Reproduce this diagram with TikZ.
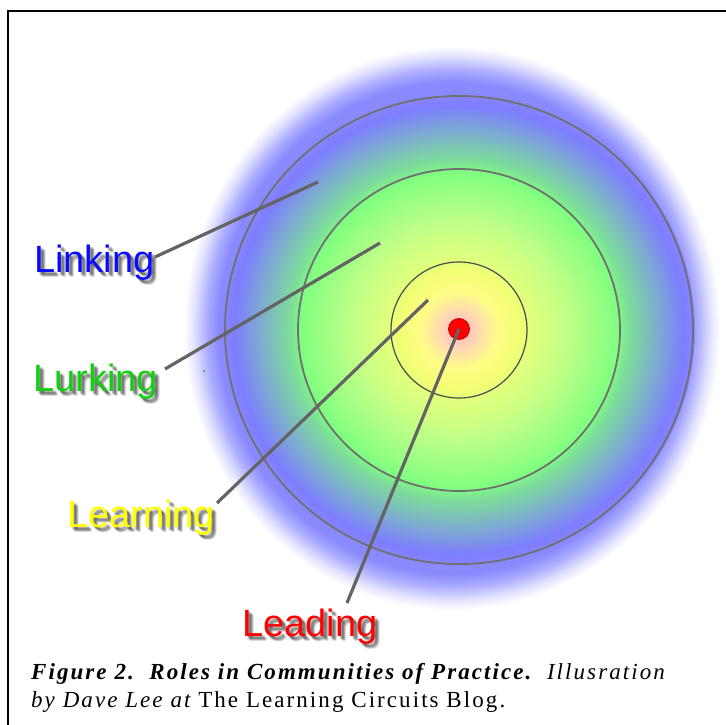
\documentclass[tikz,border=0pt]{standalone}
\usepackage{fontspec}
\setmainfont{Liberation Serif}
\newfontfamily\labelfont{Liberation Sans}
\newfontfamily\capfont[LetterSpace=9]{Liberation Serif}

% colour stops of the community disk, from the core outwards
\definecolor{dk0}{RGB}{255,160,150}
\definecolor{dk1}{RGB}{255,200,185}
\definecolor{dk2}{RGB}{255,218,178}
\definecolor{dk3}{RGB}{255,252,135}
\definecolor{dk4}{RGB}{242,255,115}
\definecolor{dk5}{RGB}{226,255,125}
\definecolor{dk6}{RGB}{190,255,135}
\definecolor{dk7}{RGB}{128,255,128}
\definecolor{dk8}{RGB}{125,225,150}
\definecolor{dk9}{RGB}{125,170,210}
\definecolor{dk10}{RGB}{125,125,255}
\definecolor{dk11}{RGB}{135,135,255}
% outer glow
\definecolor{gl0}{RGB}{138,138,255}
\definecolor{gl1}{RGB}{172,172,255}
\definecolor{gl2}{RGB}{226,226,255}
\definecolor{ringgray}{RGB}{112,112,112}
\definecolor{leadgray}{RGB}{100,100,100}
\definecolor{linkblue}{RGB}{10,10,255}
\definecolor{lurkgreen}{RGB}{16,208,16}
\definecolor{learnyellow}{RGB}{255,255,0}
\definecolor{leadred}{RGB}{255,0,0}

% 25bp corresponds to the radius of the shaded path
\pgfdeclareradialshading{roledisk}{\pgfpointorigin}{%
  color(0bp)=(dk0); color(1.17bp)=(dk1); color(2.12bp)=(dk2);
  color(4.03bp)=(dk3); color(6.36bp)=(dk4); color(7.42bp)=(dk5);
  color(11.65bp)=(dk6); color(16.74bp)=(dk7); color(17.8bp)=(dk8);
  color(21.19bp)=(dk9); color(23.83bp)=(dk10); color(25bp)=(dk11);
  color(50bp)=(dk11)}
\pgfdeclareradialshading{roleglow}{\pgfpointorigin}{%
  color(0bp)=(gl0); color(21.8bp)=(gl0); color(22.9bp)=(gl1);
  color(24.1bp)=(gl2); color(25bp)=(white); color(50bp)=(white)}

\tikzset{
  ring/.style={draw=ringgray, line width=1.8pt},
  innerring/.style={draw=black!70, line width=1.2pt},
  leader/.style={draw=leadgray, line width=3.2pt},
  rolelab/.style={font=\labelfont\fontsize{38}{38}\selectfont, anchor=base west, inner sep=0pt},
  caption/.style={font=\capfont\fontsize{23}{23}\selectfont, anchor=base west, inner sep=0pt},
}

% a role label with a soft drop shadow
\newcommand\rolelabel[4]{%
  \foreach \dx/\dy in {2/2,3/3,4/4,3/2,2/3,4/3,3/4,5/5,5/4,4/5}
    \node[rolelab, text=black, opacity=0.08] at ([shift={(\dx,\dy)}]#2) {#4};
  \node[rolelab, text=#3] (#1) at (#2) {#4};
}

\begin{document}
\begin{tikzpicture}[x=1pt,y=-1pt]
  \useasboundingbox (0,0) rectangle (726,725);
  \fill[white] (0,0) rectangle (726,725);

  % frame
  \draw[line width=1.5pt] (8,725) -- (8,11) -- (726,11);

  % glow and disk
  \shade[shading=roleglow] (452,328) ellipse [x radius=268pt, y radius=282pt];
  \shade[shading=roledisk] (459,330) circle [radius=236pt];

  % rings
  \draw[ring] (459,330) circle [radius=234pt];
  \draw[ring] (459,330) circle [radius=161pt];
  \draw[innerring] (459,330) circle [radius=68pt];

  % core
  \node[circle, fill=leadred, draw=red!75!black, line width=0.8pt,
        minimum size=21pt, inner sep=0pt] (core) at (459,329) {};

  % a stray speck
  \fill[black!60] (204,371) circle [radius=1pt];

  % labels
  \rolelabel{linking}{34,272}{linkblue}{Linking}
  \rolelabel{lurking}{33,391}{lurkgreen}{Lurking}
  \rolelabel{learning}{67,527}{learnyellow}{Learning}
  \rolelabel{leading}{242,636}{leadred}{Leading}

  % leader ends
  \coordinate (linkA) at (155,257);
  \coordinate (linkB) at (318,182);
  \coordinate (lurkA) at (165,369);
  \coordinate (lurkB) at (380,243);
  \coordinate (learnA) at (217,503);
  \coordinate (learnB) at (428,300);
  \coordinate (leadA) at (347,603);

  \draw[leader] (linkA) -- (linkB);
  \draw[leader] (lurkA) -- (lurkB);
  \draw[leader] (learnA) -- (learnB);
  \draw[leader] (leadA) -- (core.center);

  % caption
  \node[caption] (cap1) at (31,679)
    {{\bfseries\itshape Figure 2.\ \ Roles in Communities of Practice.}\ \ {\itshape Illusration}};
  \node[caption] (cap2) at (31,707)
    {{\itshape by Dave Lee at} The Learning Circuits Blog.};
\end{tikzpicture}
\end{document}
